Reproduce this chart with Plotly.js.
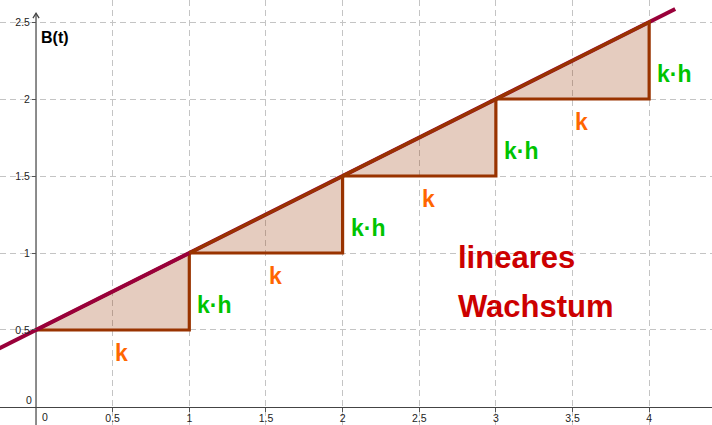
<!DOCTYPE html>
<html>
<head>
<meta charset="utf-8">
<script src="https://cdn.plot.ly/plotly-3.0.1.min.js"></script>
<style>html,body{margin:0;padding:0;background:#fff;}#chart{width:712px;height:425px;}</style>
</head>
<body>
<div id="chart"></div>
<script>
// ---- data ----
const xRange = [-0.235, 4.41];
const yRange = [-0.117, 2.643];
const xTicks = [0.5, 1, 1.5, 2, 2.5, 3, 3.5, 4];
const xTickText = ['0.5', '1', '1.5', '2', '2.5', '3', '3.5', '4'];
const yTicks = [0.5, 1, 1.5, 2, 2.5];
const yTickText = ['0.5', '1', '1.5', '2', '2.5'];
const stepT = [0, 1, 2, 3, 4];
const stepB = [0.5, 1, 1.5, 2, 2.5];
const lineT = [-0.3, 4.17];
const lineB = [0.35, 2.585];
const stepLabel = 'k';
const riseLabel = 'k·h';
const titleLines = ['lineares', 'Wachstum'];
const yLabel = 'B(t)';
const zeroLabel = '0';

// ---- styles ----
const LINE_COLOR = '#99003a';
const EDGE_COLOR = '#993300';
const FILL_COLOR = 'rgba(153,51,0,0.25)';
const K_COLOR = '#ff6600';
const KH_COLOR = '#00c400';
const TITLE_COLOR = '#cc0000';
const FONT = '"Liberation Sans", Arial, sans-serif';

function triangle(i) {
  return {
    type: 'scatter', mode: 'lines',
    x: [stepT[i], stepT[i + 1], stepT[i + 1], stepT[i]],
    y: [stepB[i], stepB[i], stepB[i + 1], stepB[i]],
    fill: 'toself', fillcolor: FILL_COLOR,
    line: {color: EDGE_COLOR, width: 3.2, shape: 'linear'},
    hoverinfo: 'skip', showlegend: false
  };
}

const lineTrace = {
  type: 'scatter', mode: 'lines', x: lineT, y: lineB,
  line: {color: LINE_COLOR, width: 4},
  hoverinfo: 'skip', showlegend: false
};

const traces = [triangle(0), lineTrace];
for (let i = 1; i < stepT.length - 1; i++) traces.push(triangle(i));

const annotations = [];
for (let i = 0; i < stepT.length - 1; i++) {
  annotations.push({
    x: stepT[i] + 0.56, y: stepB[i] - 0.15, xref: 'x', yref: 'y',
    text: '<b>' + stepLabel + '</b>', showarrow: false,
    font: {family: FONT, size: 23, color: K_COLOR}
  });
  annotations.push({
    x: stepT[i + 1] + 0.04, y: stepB[i] + 0.16, xref: 'x', yref: 'y',
    xanchor: 'left',
    text: '<b>' + riseLabel + '</b>', showarrow: false,
    font: {family: FONT, size: 23, color: KH_COLOR}
  });
}
annotations.push({
  x: 2.74, y: 0.968, xref: 'x', yref: 'y', xanchor: 'left',
  text: '<b>' + titleLines[0] + '</b>', showarrow: false,
  font: {family: FONT, size: 31, color: TITLE_COLOR}
});
annotations.push({
  x: 2.74, y: 0.652, xref: 'x', yref: 'y', xanchor: 'left',
  text: '<b>' + titleLines[1] + '</b>', showarrow: false,
  font: {family: FONT, size: 31, color: TITLE_COLOR}
});
annotations.push({
  x: 0.018, y: 2.40, xref: 'x', yref: 'y', xanchor: 'left',
  text: '<b>' + yLabel + '</b>', showarrow: false,
  font: {family: FONT, size: 16, color: '#000'}
});
annotations.push({
  x: 0.059, y: -0.066, xref: 'x', yref: 'y',
  text: zeroLabel, showarrow: false,
  font: {family: FONT, size: 10.5, color: '#222'}
});
annotations.push({
  x: -0.049, y: 0.045, xref: 'x', yref: 'y',
  text: zeroLabel, showarrow: false,
  font: {family: FONT, size: 10.5, color: '#222'}
});

const xAxisPos = (0 - yRange[0]) / (yRange[1] - yRange[0]);
const yAxisPos = (0 - xRange[0]) / (xRange[1] - xRange[0]);

const layout = {
  width: 712, height: 425,
  margin: {l: 0, r: 0, t: 0, b: 0, pad: 0},
  paper_bgcolor: '#fff', plot_bgcolor: '#fff',
  showlegend: false,
  xaxis: {
    range: xRange, anchor: 'free', position: xAxisPos,
    tickvals: xTicks, ticktext: xTickText,
    showgrid: true, gridcolor: '#c4c4c4', gridwidth: 1, griddash: '6px,4px',
    zeroline: false, showline: true, linecolor: '#444', linewidth: 1.5,
    ticks: 'outside', ticklen: 4, tickcolor: '#555', tickwidth: 1,
    ticklabelstandoff: -3,
    tickfont: {family: FONT, size: 10.5, color: '#222'},
    fixedrange: true
  },
  yaxis: {
    range: yRange, anchor: 'free', position: yAxisPos,
    tickvals: yTicks, ticktext: yTickText,
    showgrid: true, gridcolor: '#c4c4c4', gridwidth: 1, griddash: '6px,4px',
    zeroline: false, showline: false,
    ticks: 'outside', ticklen: 4, tickcolor: '#555', tickwidth: 1,
    tickfont: {family: FONT, size: 10.5, color: '#222'},
    fixedrange: true
  },
  shapes: [
    {type: 'line', xref: 'x', yref: 'y', x0: 0, x1: 0, y0: yRange[0], y1: 2.555,
     line: {color: '#666', width: 1.5}, layer: 'below'},
    {type: 'path', xref: 'x', yref: 'y', path: 'M -0.02,2.525 L 0,2.557 L 0.02,2.525',
     line: {color: '#444', width: 1.3}, layer: 'above'}
  ],
  annotations: annotations
};

Plotly.newPlot('chart', traces, layout, {displayModeBar: false, staticPlot: true});
</script>
</body>
</html>
